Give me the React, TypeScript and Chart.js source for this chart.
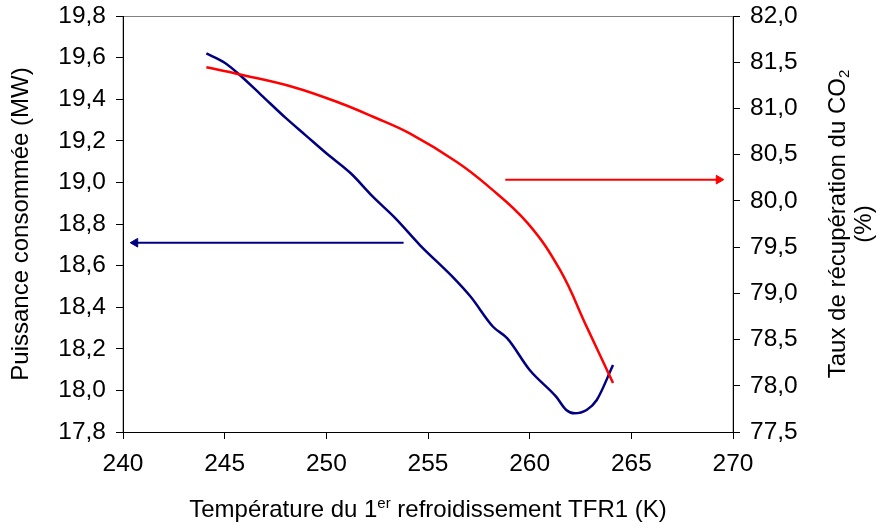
import { useEffect, useRef } from "react";
import { Chart, registerables } from "chart.js";

Chart.register(...registerables);

// Puissance consommée (MW) vs température TFR1 (K)
const puissanceT = [244.1, 245.0, 245.7, 246.8, 248.0, 249.0, 250.0, 251.2, 252.3, 253.4, 254.6, 256.2, 257.1, 258.2, 258.9, 260.0, 261.3, 261.8, 262.2, 262.8, 263.3, 264.1];
const puissanceMW = [19.62, 19.575, 19.52, 19.42, 19.31, 19.225, 19.14, 19.044, 18.93, 18.827, 18.699, 18.547, 18.45, 18.306, 18.25, 18.098, 17.97, 17.906, 17.89, 17.906, 17.954, 18.122];

// Taux de récupération du CO2 (%) vs température TFR1 (K)
const tauxT = [244.1, 245.7, 248.4, 250.7, 252.3, 254.1, 256.4, 257.9, 259.9, 261.5, 262.8, 264.1];
const tauxCO2 = [81.445, 81.37, 81.23, 81.056, 80.91, 80.73, 80.424, 80.17, 79.76, 79.25, 78.64, 78.03];

// Arrows pointing to the relevant axis
const arrowPuissanceT = [253.8, 240.6];
const arrowPuissanceY = [18.71, 18.71];
const arrowTauxT = [258.8, 269.3];
const arrowTauxY = [80.23, 80.23];

const FONT = "'Liberation Sans', Arial, sans-serif";
const BLUE = "#000080";
const RED = "#FF0000";

const fmt = (v: number | string) => Number(v).toFixed(1).replace(".", ",");

const titlesPlugin = {
  id: "customTitles",
  beforeDraw(chart: any) {
    const { ctx, chartArea } = chart;
    ctx.save();
    ctx.strokeStyle = "#808080";
    ctx.lineWidth = 1;
    ctx.strokeRect(chartArea.left, chartArea.top + 0.5, chartArea.right - chartArea.left, chartArea.bottom - chartArea.top);
    ctx.restore();
  },
  afterDraw(chart: any) {
    const { ctx, chartArea } = chart;
    const midY = (chartArea.top + chartArea.bottom) / 2;
    ctx.save();
    ctx.fillStyle = "#000";
    ctx.textBaseline = "alphabetic";

    // Left title
    ctx.save();
    ctx.translate(28, midY);
    ctx.rotate(-Math.PI / 2);
    ctx.font = `24px ${FONT}`;
    ctx.textAlign = "center";
    ctx.fillText("Puissance consommée (MW)", 0, 0);
    ctx.restore();

    // Bottom title with superscript
    const big = `24px ${FONT}`;
    const small = `15px ${FONT}`;
    const p1 = "Température du 1";
    const sup = "er";
    const p2 = " refroidissement TFR1 (K)";
    ctx.font = big;
    const w1 = ctx.measureText(p1).width;
    const w3 = ctx.measureText(p2).width;
    ctx.font = small;
    const w2 = ctx.measureText(sup).width;
    const total = w1 + w2 + w3;
    const cx = (chartArea.left + chartArea.right) / 2;
    let x = cx - total / 2;
    const base = 517;
    ctx.textAlign = "left";
    ctx.font = big;
    ctx.fillText(p1, x, base);
    x += w1;
    ctx.font = small;
    ctx.fillText(sup, x, base - 9);
    x += w2;
    ctx.font = big;
    ctx.fillText(p2, x, base);

    // Right title with subscript, two lines
    ctx.save();
    ctx.translate(845, midY);
    ctx.rotate(-Math.PI / 2);
    const r1 = "Taux de récupération du CO";
    const sub = "2";
    ctx.font = big;
    const rw1 = ctx.measureText(r1).width;
    ctx.font = small;
    const rw2 = ctx.measureText(sub).width;
    let rx = -(rw1 + rw2) / 2;
    ctx.font = big;
    ctx.textAlign = "left";
    ctx.fillText(r1, rx, 0);
    rx += rw1;
    ctx.font = small;
    ctx.fillText(sub, rx, 4);
    ctx.font = big;
    ctx.textAlign = "center";
    ctx.fillText("(%)", 0, 26);
    ctx.restore();

    ctx.restore();
  },
};

export default function App() {
  const ref = useRef<HTMLCanvasElement | null>(null);

  useEffect(() => {
    if (!ref.current) return;
    const tickFont = { family: FONT, size: 24.5 };
    const chart = new Chart(ref.current, {
      type: "scatter",
      data: {
        datasets: [
          {
            label: "Taux de récupération du CO2",
            data: tauxT.map((t, i) => ({ x: t, y: tauxCO2[i] })),
            yAxisID: "y1",
            showLine: true,
            borderColor: RED,
            backgroundColor: RED,
            borderWidth: 2.5,
            pointRadius: 0,
            tension: 0.4,
          },
          {
            label: "Puissance consommée",
            data: puissanceT.map((t, i) => ({ x: t, y: puissanceMW[i] })),
            yAxisID: "y",
            showLine: true,
            borderColor: BLUE,
            backgroundColor: BLUE,
            borderWidth: 2.5,
            pointRadius: 0,
            cubicInterpolationMode: "monotone",
          },
          {
            label: "flèche taux",
            data: arrowTauxT.map((t, i) => ({ x: t, y: arrowTauxY[i] })),
            yAxisID: "y1",
            showLine: true,
            borderColor: RED,
            backgroundColor: RED,
            borderWidth: 2,
            pointStyle: "triangle",
            pointRotation: 90,
            pointRadius: [0, 5],
            pointBorderWidth: 1,
          },
          {
            label: "flèche puissance",
            data: arrowPuissanceT.map((t, i) => ({ x: t, y: arrowPuissanceY[i] })),
            yAxisID: "y",
            showLine: true,
            borderColor: BLUE,
            backgroundColor: BLUE,
            borderWidth: 2,
            pointStyle: "triangle",
            pointRotation: 270,
            pointRadius: [0, 5],
            pointBorderWidth: 1,
          },
        ],
      },
      options: {
        animation: false,
        responsive: true,
        maintainAspectRatio: false,
        layout: { padding: { top: 16, left: 0, right: 0, bottom: 0 } },
        plugins: {
          legend: { display: false },
          tooltip: { enabled: false },
          title: { display: false },
        },
        scales: {
          x: {
            type: "linear",
            min: 240,
            max: 270,
            ticks: { stepSize: 5, color: "#000", font: tickFont, padding: 11, maxRotation: 0 },
            grid: { display: true, drawOnChartArea: false, drawTicks: true, tickLength: 7, color: "#000" },
            border: { color: "#000", width: 1 },
            afterFit: (s: any) => {
              s.height = 97;
              s.paddingLeft = 0;
              s.paddingRight = 0;
            },
          },
          y: {
            position: "left",
            min: 17.8,
            max: 19.8,
            ticks: { stepSize: 0.2, color: "#000", font: tickFont, padding: 10, callback: (v: any) => fmt(v) },
            grid: { display: true, drawOnChartArea: false, drawTicks: true, tickLength: 7, color: "#000" },
            border: { color: "#000", width: 1 },
            afterFit: (s: any) => {
              s.width = 123;
              s.paddingTop = 0;
              s.paddingBottom = 0;
            },
          },
          y1: {
            position: "right",
            min: 77.5,
            max: 82,
            ticks: { stepSize: 0.5, color: "#000", font: tickFont, padding: 10, callback: (v: any) => fmt(v) },
            grid: { display: true, drawOnChartArea: false, drawTicks: true, tickLength: 7, color: "#000" },
            border: { color: "#000", width: 1 },
            afterFit: (s: any) => {
              s.width = 149;
              s.paddingTop = 0;
              s.paddingBottom = 0;
            },
          },
        },
      } as any,
      plugins: [titlesPlugin],
    });
    return () => chart.destroy();
  }, []);

  return (
    <div style={{ position: "fixed", left: 0, top: 0, width: 882, height: 529, background: "#fff" }}>
      <canvas ref={ref} />
    </div>
  );
}
